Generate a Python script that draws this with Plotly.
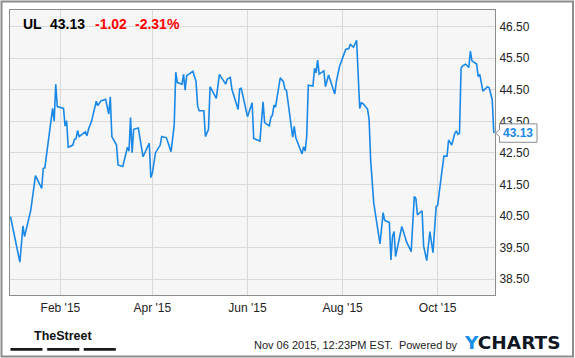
import plotly.graph_objects as go

# ---------------- data ----------------
dates = [
    "2014-12-31", "2015-01-06", "2015-01-08", "2015-01-09", "2015-01-13", "2015-01-16",
    "2015-01-20", "2015-01-21", "2015-01-22", "2015-01-27", "2015-01-28", "2015-01-29",
    "2015-01-30", "2015-02-03", "2015-02-04", "2015-02-05", "2015-02-06", "2015-02-09",
    "2015-02-10", "2015-02-11", "2015-02-12", "2015-02-13", "2015-02-17", "2015-02-18",
    "2015-02-19", "2015-02-21", "2015-02-24", "2015-02-25", "2015-02-27", "2015-03-02",
    "2015-03-04", "2015-03-05", "2015-03-06", "2015-03-09", "2015-03-10", "2015-03-13",
    "2015-03-16", "2015-03-17", "2015-03-18", "2015-03-19", "2015-03-20", "2015-03-23",
    "2015-03-26", "2015-03-30", "2015-03-31", "2015-04-01", "2015-04-03", "2015-04-06",
    "2015-04-07", "2015-04-10", "2015-04-13", "2015-04-15", "2015-04-16", "2015-04-17",
    "2015-04-20", "2015-04-21", "2015-04-22", "2015-04-23", "2015-04-27", "2015-04-29",
    "2015-04-30", "2015-05-01", "2015-05-04", "2015-05-05", "2015-05-07", "2015-05-08",
    "2015-05-12", "2015-05-14", "2015-05-18", "2015-05-19", "2015-05-21", "2015-05-22",
    "2015-05-26", "2015-05-27", "2015-05-28", "2015-05-30", "2015-06-01", "2015-06-04",
    "2015-06-05", "2015-06-09", "2015-06-11", "2015-06-12", "2015-06-15", "2015-06-16",
    "2015-06-17", "2015-06-18", "2015-06-19", "2015-06-22", "2015-06-24", "2015-06-25",
    "2015-06-26", "2015-06-30", "2015-07-01", "2015-07-02", "2015-07-06", "2015-07-07",
    "2015-07-08", "2015-07-09", "2015-07-10", "2015-07-13", "2015-07-14", "2015-07-15",
    "2015-07-16", "2015-07-17", "2015-07-20", "2015-07-21", "2015-07-23", "2015-07-27",
    "2015-07-28", "2015-07-30", "2015-08-03", "2015-08-05", "2015-08-06", "2015-08-08",
    "2015-08-10", "2015-08-12", "2015-08-13", "2015-08-14", "2015-08-17", "2015-08-18",
    "2015-08-19", "2015-08-21", "2015-08-23", "2015-08-25", "2015-08-27", "2015-08-28",
    "2015-08-31", "2015-09-01", "2015-09-02", "2015-09-03", "2015-09-04", "2015-09-08",
    "2015-09-11", "2015-09-14", "2015-09-16", "2015-09-17", "2015-09-18", "2015-09-21",
    "2015-09-22", "2015-09-24", "2015-09-26", "2015-09-28", "2015-09-30", "2015-10-01",
    "2015-10-03", "2015-10-05", "2015-10-07", "2015-10-08", "2015-10-10", "2015-10-12",
    "2015-10-13", "2015-10-14", "2015-10-15", "2015-10-16", "2015-10-17", "2015-10-19",
    "2015-10-21", "2015-10-22", "2015-10-23", "2015-10-26", "2015-10-27", "2015-10-28",
    "2015-10-30", "2015-11-02", "2015-11-03", "2015-11-05", "2015-11-06",
]
prices = [
    40.48, 39.04, 40.19, 39.85, 40.69, 41.78,
    41.38, 42.01, 42.03, 43.91, 43.51, 44.68,
    43.97, 43.91, 43.35, 43.52, 42.68, 42.75,
    42.93, 42.95, 43.21, 43.02, 43.17, 43.04,
    43.25, 43.51, 44.14, 44.00, 44.15, 44.20,
    43.73, 44.28, 43.02, 42.75, 42.12, 42.07,
    42.68, 42.56, 43.62, 42.51, 43.25, 43.29,
    42.38, 42.81, 41.72, 41.86, 42.51, 42.75,
    43.02, 42.98, 42.54, 43.39, 45.06, 44.73,
    44.68, 44.99, 44.49, 44.95, 45.09, 44.76,
    43.99, 43.84, 43.84, 43.02, 43.25, 44.60,
    44.23, 44.99, 44.68, 44.84, 44.89, 44.52,
    43.88, 44.53, 44.55, 44.15, 43.65, 44.09,
    42.96, 42.88, 44.12, 43.46, 43.36, 43.63,
    43.70, 44.02, 43.95, 44.88, 44.76, 44.52,
    44.49, 43.00, 43.34, 42.98, 42.47, 42.70,
    42.56, 43.02, 44.65, 44.62, 45.18, 45.04,
    45.44, 45.00, 45.10, 44.60, 44.97, 44.37,
    44.76, 45.23, 45.78, 45.81, 45.94, 45.85,
    46.07, 43.91, 44.09, 44.07, 43.89, 43.57,
    42.28, 40.91, 40.22, 39.62, 40.61, 40.36,
    40.30, 39.11, 39.85, 40.01, 39.22, 40.17,
    39.69, 39.37, 41.12, 41.06, 40.54, 40.67,
    39.55, 39.09, 40.01, 39.34, 40.80, 40.85,
    41.64, 42.40, 42.40, 42.91, 42.75, 43.12,
    43.20, 43.09, 43.12, 45.18, 45.26, 45.31,
    45.21, 45.73, 45.42, 45.32, 44.92, 44.99,
    44.46, 44.60, 44.57, 44.18, 43.13,
]

x_tick_vals = ["2015-02-01", "2015-04-01", "2015-06-01", "2015-08-01", "2015-10-01"]
x_tick_text = ["Feb '15", "Apr '15", "Jun '15", "Aug '15", "Oct '15"]
y_tick_vals = [38.5, 39.5, 40.5, 41.5, 42.5, 43.5, 44.5, 45.5, 46.5]

ticker = "UL"
last_price_text = "43.13"
change_text = "-1.02"
change_pct_text = "-2.31%"
footer_text = "Nov 06 2015, 12:23PM EST.  Powered by"

# ---------------- layout helpers ----------------
W, H = 575, 358
L, R, T, B = 10, 80, 10, 63
PW, PH = W - L - R, H - T - B
X_RANGE = ["2014-12-30 16:00", "2015-11-06 18:30"]
Y_RANGE = [38.0, 47.03]


def px(x):
    return (x - L) / PW


def py(y):
    return (H - B - y) / PH


BLUE = "#1a88e6"
GRID = "#d9d9d9"
FRAME = "#8c8c8c"
TXT = "#222222"
RED = "#ff0000"
FONT = "Arial, Liberation Sans, sans-serif"

fig = go.Figure()
fig.add_trace(go.Scatter(
    x=dates, y=prices, mode="lines",
    line=dict(color=BLUE, width=1.6),
    hoverinfo="skip", showlegend=False,
))

last_val = prices[-1]
unit = (Y_RANGE[1] - Y_RANGE[0]) / PH  # data units per pixel

shapes = [
    # outer border
    dict(type="rect", xref="paper", yref="paper",
         x0=px(1.5), x1=px(573), y0=py(1.5), y1=py(356.5),
         line=dict(color="#8c8c8c", width=2), layer="above"),
    # TheStreet bars
    dict(type="rect", xref="paper", yref="paper", x0=px(10.5), x1=px(42.5),
         y0=py(348), y1=py(350.7), fillcolor="#1a1a1a", line=dict(width=0)),
    dict(type="rect", xref="paper", yref="paper", x0=px(47.2), x1=px(79.3),
         y0=py(348), y1=py(350.7), fillcolor="#1a1a1a", line=dict(width=0)),
    dict(type="rect", xref="paper", yref="paper", x0=px(83.7), x1=px(115.8),
         y0=py(348), y1=py(350.7), fillcolor="#1a1a1a", line=dict(width=0)),
]

# last value callout box
bx0, bx1, tip = px(499.5), px(537), px(495.5)
hh, nh = 9.2 * unit, 3.5 * unit
path = (f"M {bx0},{last_val + hh} L {bx1},{last_val + hh} L {bx1},{last_val - hh} "
        f"L {bx0},{last_val - hh} L {bx0},{last_val - nh} L {tip},{last_val} "
        f"L {bx0},{last_val + nh} Z")
shapes.append(dict(type="path", xref="paper", yref="y", path=path,
                   fillcolor="white", line=dict(color="#8c8c8c", width=1),
                   layer="above"))

annotations = [
    dict(text=f"<b>{ticker}</b>", x=px(21), y=py(24), xanchor="left", yanchor="middle",
         font=dict(family=FONT, size=14, color="#000000")),
    dict(text=f"<b>{last_price_text}</b>", x=px(48.3), y=py(24), xanchor="left", yanchor="middle",
         font=dict(family=FONT, size=14, color="#000000")),
    dict(text=f"<b>{change_text}</b>", x=px(93.3), y=py(24), xanchor="left", yanchor="middle",
         font=dict(family=FONT, size=14, color=RED)),
    dict(text=f"<b>{change_pct_text}</b>", x=px(133.3), y=py(24), xanchor="left", yanchor="middle",
         font=dict(family=FONT, size=14, color=RED)),
    # last value label
    dict(text=f"<b>{last_val:.2f}</b>", x=px(517.5), y=last_val, yref="y",
         xanchor="center", yanchor="middle",
         font=dict(family=FONT, size=12, color=BLUE)),
    # TheStreet
    dict(text="<b>TheStreet</b>", x=px(63), y=py(335.5), xanchor="center", yanchor="middle",
         font=dict(family=FONT, size=12.5, color="#111111")),
    # footer
    dict(text=footer_text, x=px(459.5), y=py(345), xanchor="right", yanchor="middle",
         font=dict(family=FONT, size=11, color=TXT)),
    dict(text="<b><span style='color:#1a8fe8'>Y</span>CHARTS</b>", x=px(462), y=py(342.5),
         xanchor="left", yanchor="middle",
         font=dict(family="DejaVu Sans, sans-serif", size=18.5, color="#0f1722")),
]
for a in annotations:
    a.setdefault("xref", "paper")
    a.setdefault("yref", "paper")
    a["showarrow"] = False

fig.update_layout(
    width=W, height=H,
    margin=dict(l=L, r=R, t=T, b=B, pad=0),
    paper_bgcolor="white",
    plot_bgcolor="#f6f6f6",
    shapes=shapes,
    annotations=annotations,
    xaxis=dict(
        type="date", range=X_RANGE,
        tickmode="array", tickvals=x_tick_vals, ticktext=x_tick_text,
        showgrid=True, gridcolor=GRID, gridwidth=1,
        showline=True, linecolor=FRAME, linewidth=1, mirror=True,
        ticks="", ticklabelstandoff=2,
        tickfont=dict(family=FONT, size=12, color=TXT),
        zeroline=False, fixedrange=True,
    ),
    yaxis=dict(
        range=Y_RANGE, side="right",
        tickmode="array", tickvals=y_tick_vals, tickformat=".2f",
        showgrid=True, gridcolor=GRID, gridwidth=1,
        showline=True, linecolor=FRAME, linewidth=1, mirror=True,
        ticks="", ticklabelstandoff=1,
        tickfont=dict(family=FONT, size=12, color=TXT),
        zeroline=False, fixedrange=True,
    ),
    showlegend=False,
)

fig.write_html("out.html", config={"displayModeBar": False})
